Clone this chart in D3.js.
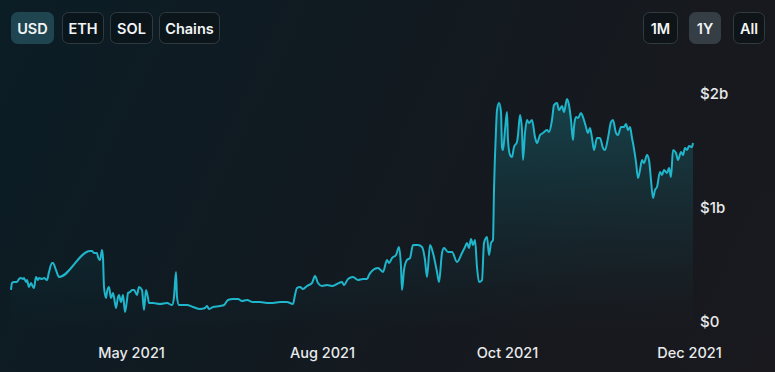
<!DOCTYPE html>
<html>
<head>
<meta charset="utf-8">
<script src="https://cdn.jsdelivr.net/npm/d3@7"></script>
<style>
  html, body { margin: 0; padding: 0; }
  body {
    width: 775px; height: 372px; overflow: hidden;
    background: linear-gradient(115deg, #0b1d25 0%, #111a21 40%, #17191e 75%, #19191e 100%);
    font-family: Inter, "Noto Sans", sans-serif;
  }
  .axis text { fill: #e8eaec; font-family: Inter, sans-serif; }
  .axis .domain { display: none; }
</style>
</head>
<body>
<script>
// TVL history, day offset from the first sample and value in $ millions
const days = [0.4, 0.8, 1.6, 2.8, 3.6, 4.4, 5.2, 5.6, 6.4, 6.8, 7.6, 8.4, 9.2, 9.6, 10.4, 11.2, 11.6, 12.8, 13.6, 14.8,
  15.6, 16.8, 17.2, 18.4, 19.6, 32, 32.8, 33.6, 34.8, 35.2, 36, 36.8, 37.2, 37.6, 38.4, 38.8, 39.6, 40.4, 41.2, 41.6,
  42.4, 43.2, 43.6, 44.4, 45.2, 46, 46.8, 47.2, 48, 48.8, 49.6, 50.8, 51.6, 52.8, 53.6, 54.4, 55.2, 55.6, 57.2, 60,
  62.8, 64.8, 65.6, 66.4, 66.8, 67.6, 69.2, 70.8, 73.2, 76, 78, 78.8, 79.6, 81.2, 84, 85.6, 87.2, 89.2, 91.2, 92.8,
  94.8, 97.2, 100, 102.8, 105.2, 108, 110.8, 113.2, 114, 114.8, 116, 117.2, 118.8, 120.8, 122, 123.2, 124.8, 126.8, 128.8, 130.8,
  132.8, 133.6, 135.2, 137.2, 139.2, 141.2, 142.8, 143.6, 145.2, 147.2, 149.2, 150.8, 151.6, 152.8, 154.4, 155.6, 156.4, 156.8, 157.6, 158.8,
  160, 161.2, 163.2, 164.8, 166, 166.8, 168, 169.2, 170.8, 171.6, 172.8, 173.6, 175.2, 176.8, 178.8, 180.8, 182, 182.8, 183.6, 184.4,
  185.2, 186, 186.8, 187.6, 188.8, 189.6, 190.8, 191.6, 192.4, 193.2, 193.6, 194.4, 194.8, 195.6, 196.4, 196.8, 197.2, 198, 198.8, 199.2,
  200, 200.8, 201.6, 202.8, 203.2, 204, 204.8, 205.2, 206, 206.8, 207.6, 208.8, 210, 210.8, 212, 213.2, 214.8, 215.6, 216.8, 217.6,
  218.8, 219.6, 220.8, 221.6, 222.8, 223.6, 224.4, 225.2, 225.6, 226.4, 227.2, 228.4, 229.2, 230.4, 231.2, 232, 232.8, 233.6, 234.8, 236,
  237.2, 238, 239.2, 240.4, 241.2, 242.4, 243.2, 244.4, 245.6, 246.4, 247.2, 248, 248.8, 249.2, 250.4, 251.2, 252, 252.8, 253.6, 254.8,
  255.6, 256.4, 257.2, 258, 258.8, 260, 260.8, 261.6, 262.8, 263.6, 264.4, 265.2, 266.4, 267.2, 268.4, 269.2, 270, 270.8, 271.6, 272.8, 273.2];

const tvl = [281, 342, 351, 351, 377, 386, 377, 386, 351, 368, 307, 342, 307, 298, 395, 368, 386, 377, 386, 368,
  439, 517, 517, 456, 395, 623, 623, 605, 605, 570, 544, 631, 561, 307, 210, 263, 307, 210, 254, 219,
  123, 219, 237, 175, 237, 88, 193, 254, 263, 281, 281, 237, 307, 281, 105, 281, 210, 167, 167, 158,
  167, 149, 219, 439, 219, 149, 149, 149, 132, 114, 123, 140, 114, 132, 140, 149, 193, 202, 202, 184,
  193, 175, 175, 167, 167, 175, 175, 158, 237, 298, 307, 289, 316, 342, 403, 342, 316, 324, 316, 333,
  351, 324, 377, 395, 368, 377, 377, 412, 456, 474, 439, 544, 517, 561, 588, 658, 482, 281, 456, 544,
  561, 675, 675, 658, 544, 395, 675, 605, 439, 351, 605, 649, 614, 614, 526, 605, 658, 693, 649, 728,
  675, 719, 482, 351, 368, 693, 745, 588, 693, 719, 1158, 1684, 1859, 1921, 1842, 1535, 1508, 1684, 1842, 1596,
  1465, 1447, 1535, 1579, 1640, 1815, 1684, 1421, 1658, 1772, 1745, 1772, 1622, 1570, 1640, 1658, 1684, 1666, 1772, 1903,
  1921, 1859, 1894, 1842, 1956, 1903, 1772, 1596, 1710, 1798, 1789, 1833, 1798, 1710, 1658, 1701, 1614, 1508, 1614, 1614,
  1526, 1508, 1614, 1754, 1772, 1658, 1640, 1710, 1710, 1736, 1684, 1710, 1614, 1570, 1403, 1263, 1333, 1421, 1394, 1465,
  1421, 1245, 1088, 1158, 1184, 1316, 1289, 1333, 1307, 1351, 1272, 1508, 1482, 1421, 1491, 1465, 1526, 1508, 1544, 1535, 1570];

const tickDays = [48.4, 124.8, 198.8, 271.6];
const tickLabels = ["May 2021", "Aug 2021", "Oct 2021", "Dec 2021"];
const yTicks = [0, 1000, 2000];
const yLabels = ["$0", "$1b", "$2b"];

const currencyButtons = ["USD", "ETH", "SOL", "Chains"];
const rangeButtons = ["1M", "1Y", "All"];

const width = 775, height = 372;
const data = days.map((d, i) => ({ day: d, value: tvl[i] }));

const svg = d3.select("body").append("svg")
  .attr("width", width)
  .attr("height", height);

const x = d3.scaleLinear().domain([0, 273.2]).range([10, 693]);
const y = d3.scaleLinear().domain([0, 2000]).range([322, 94]);

// area gradient
const defs = svg.append("defs");
const grad = defs.append("linearGradient")
  .attr("id", "areaFill")
  .attr("gradientUnits", "userSpaceOnUse")
  .attr("x1", 0).attr("y1", 94).attr("x2", 0).attr("y2", 330);
grad.append("stop").attr("offset", "0%").attr("stop-color", "#1a9aab").attr("stop-opacity", 0.32);
grad.append("stop").attr("offset", "55%").attr("stop-color", "#157f8e").attr("stop-opacity", 0.14);
grad.append("stop").attr("offset", "100%").attr("stop-color", "#0f5e6a").attr("stop-opacity", 0);

const area = d3.area()
  .x(d => x(d.day))
  .y0(y(0) + 6)
  .y1(d => y(d.value))
  .curve(d3.curveMonotoneX);

const line = d3.line()
  .x(d => x(d.day))
  .y(d => y(d.value))
  .curve(d3.curveMonotoneX);

svg.append("path")
  .datum(data)
  .attr("d", area)
  .attr("fill", "url(#areaFill)");

svg.append("path")
  .datum(data)
  .attr("d", line)
  .attr("fill", "none")
  .attr("stroke", "#1fb6cc")
  .attr("stroke-width", 2)
  .attr("stroke-linejoin", "round");

// axes
svg.append("g")
  .attr("class", "axis")
  .attr("transform", "translate(0,345)")
  .call(d3.axisBottom(x).tickValues(tickDays).tickFormat((d, i) => tickLabels[i]).tickSize(0))
  .selectAll("text")
  .attr("font-size", 14.5)
  .attr("font-weight", 500)
  .attr("dy", "0.71em");

const yAxis = svg.append("g")
  .attr("class", "axis")
  .attr("transform", "translate(700,0)")
  .call(d3.axisRight(y).tickValues(yTicks).tickFormat((d, i) => yLabels[i]).tickSize(0).tickPadding(0));
yAxis.selectAll("text")
  .attr("font-size", 15)
  .attr("font-weight", 500);

// toggle buttons
function drawButtons(labels, lefts, widths, selected, selFill) {
  const g = svg.append("g");
  const b = g.selectAll("g").data(labels).enter().append("g")
    .attr("transform", (d, i) => "translate(" + lefts[i] + ",12)");
  b.append("rect")
    .attr("x", 0.5).attr("y", 0.5)
    .attr("width", (d, i) => widths[i])
    .attr("height", 31)
    .attr("rx", 6)
    .attr("fill", d => d === selected ? selFill : "rgba(10,16,20,0.55)")
    .attr("stroke", d => d === selected ? selFill : "#2f3b40")
    .attr("stroke-width", 1);
  b.append("text")
    .attr("x", (d, i) => widths[i] / 2 + 0.5)
    .attr("y", 17)
    .attr("dy", "0.35em")
    .attr("text-anchor", "middle")
    .attr("fill", "#f2f4f5")
    .attr("font-size", 14.5)
    .attr("font-weight", 600)
    .text(d => d);
}

drawButtons(currencyButtons, [11, 62, 110, 159], [42, 41, 42, 60], "USD", "#1e4550");
drawButtons(rangeButtons, [643, 689, 733], [34, 31, 31], "1Y", "#353d45");
</script>
</body>
</html>
